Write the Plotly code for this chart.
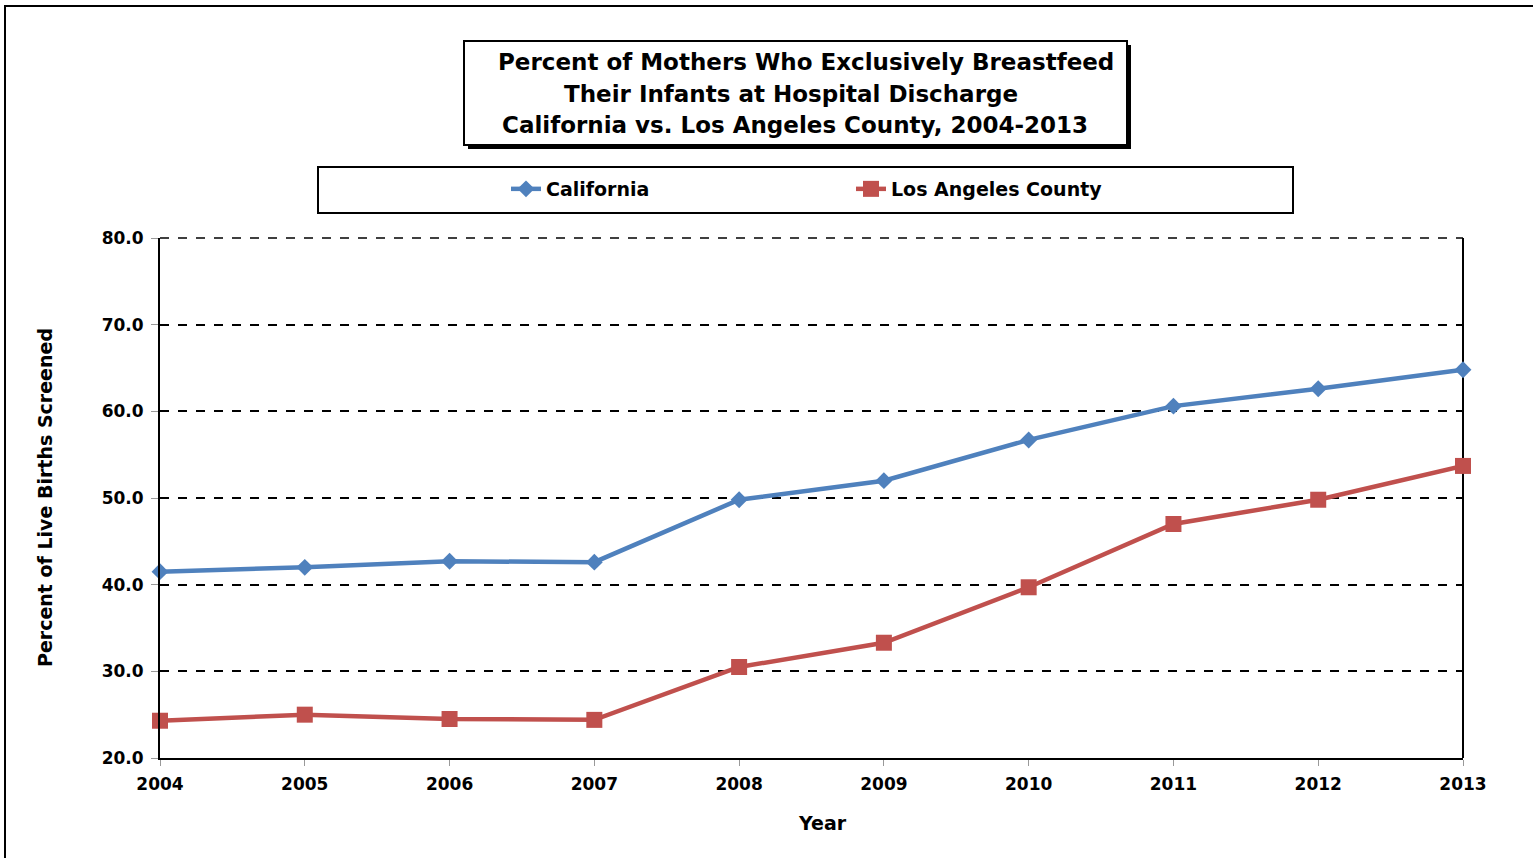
import plotly.graph_objects as go

years = [2004, 2005, 2006, 2007, 2008, 2009, 2010, 2011, 2012, 2013]
california = [41.5, 42.0, 42.7, 42.6, 49.8, 52.0, 56.7, 60.6, 62.6, 64.8]
los_angeles = [24.3, 25.0, 24.5, 24.4, 30.5, 33.3, 39.7, 47.0, 49.8, 53.7]
y_ticks = [20, 30, 40, 50, 60, 70, 80]
title_lines = [
    "Percent of Mothers Who Exclusively Breastfeed",
    "Their Infants at Hospital Discharge",
    "California vs. Los Angeles County, 2004-2013",
]

W, H = 1533, 858
L, R, T, B = 160, 1463, 238, 758
FONT = "DejaVu Sans, Liberation Sans, Arial, sans-serif"


def px(x):
    return (x - L) / (R - L)


def py(y):
    return (B - y) / (B - T)


fig = go.Figure()
fig.add_trace(go.Scatter(
    x=years, y=california, name="California", mode="lines+markers",
    line=dict(color="#4F81BD", width=4.5),
    marker=dict(symbol="diamond", size=13, color="#4F81BD"),
    cliponaxis=False,
))
fig.add_trace(go.Scatter(
    x=years, y=los_angeles, name="Los Angeles County", mode="lines+markers",
    line=dict(color="#C0504D", width=4.5),
    marker=dict(symbol="square", size=16, color="#C0504D"),
    cliponaxis=False,
))

shapes = [
    # outer border
    dict(type="rect", xref="paper", yref="paper", x0=px(5), x1=px(1580), y0=py(6), y1=py(900),
         line=dict(color="black", width=2), fillcolor="rgba(0,0,0,0)", layer="below"),
    # title shadow
    dict(type="rect", xref="paper", yref="paper", x0=px(468), x1=px(1131), y0=py(45), y1=py(149),
         line=dict(color="black", width=0), fillcolor="black"),
    # title box
    dict(type="rect", xref="paper", yref="paper", x0=px(464), x1=px(1127), y0=py(41), y1=py(145),
         line=dict(color="black", width=2), fillcolor="white"),
    # legend box
    dict(type="rect", xref="paper", yref="paper", x0=px(318), x1=px(1293), y0=py(167), y1=py(213),
         line=dict(color="black", width=2), fillcolor="rgba(0,0,0,0)"),
    # right plot border
    dict(type="line", xref="paper", yref="paper", x0=1, x1=1, y0=0, y1=1,
         line=dict(color="black", width=2), layer="below"),
    # top dashed border
    dict(type="line", xref="paper", yref="paper", x0=0, x1=1, y0=1, y1=1,
         line=dict(color="black", width=1.5, dash="dash"), layer="below"),
]

annotations = []
for text, cx, cy in zip(title_lines, [806, 791, 795], [62, 94, 125]):
    annotations.append(dict(
        text="<b>%s</b>" % text, xref="paper", yref="paper", x=px(cx), y=py(cy),
        xanchor="center", yanchor="middle", showarrow=False,
        font=dict(family=FONT, size=23, color="black"),
    ))
annotations.append(dict(
    text="<b>Percent of Live Births Screened</b>", xref="paper", yref="paper",
    x=px(45), y=py(498), xanchor="center", yanchor="middle", textangle=-90,
    showarrow=False, font=dict(family=FONT, size=19, color="black"),
))
annotations.append(dict(
    text="<b>Year</b>", xref="paper", yref="paper",
    x=px(822), y=py(823), xanchor="center", yanchor="middle",
    showarrow=False, font=dict(family=FONT, size=19, color="black"),
))

fig.update_layout(
    width=W, height=H,
    margin=dict(l=L, r=W - R, t=T, b=H - B),
    paper_bgcolor="white", plot_bgcolor="white",
    shapes=shapes, annotations=annotations,
    showlegend=True,
    legend=dict(
        orientation="h", x=px(506), y=py(189), xanchor="left", yanchor="middle",
        font=dict(family=FONT, size=19, color="black", weight="bold"),
        entrywidth=300, entrywidthmode="pixels",
        bgcolor="rgba(0,0,0,0)", itemclick=False,
    ),
    xaxis=dict(
        range=[2004, 2013], tickvals=years, ticktext=[str(y) for y in years],
        showgrid=False, zeroline=False,
        showline=True, linecolor="black", linewidth=2,
        ticks="outside", ticklen=6, tickcolor="#999999",
        ticklabelstandoff=4,
        tickfont=dict(family=FONT, size=17, color="black", weight="bold"),
    ),
    yaxis=dict(
        range=[20, 80], tickvals=y_ticks, ticktext=["%.1f" % v for v in y_ticks],
        showgrid=True, gridcolor="black", gridwidth=1.5, griddash="dash",
        zeroline=False,
        showline=True, linecolor="black", linewidth=2,
        ticks="outside", ticklen=7, tickcolor="#999999",
        ticklabelstandoff=4,
        tickfont=dict(family=FONT, size=17, color="black", weight="bold"),
    ),
)

fig.write_html(
    "out.html",
    config={"displayModeBar": False},
    post_script="document.body.style.margin='0px';",
)
